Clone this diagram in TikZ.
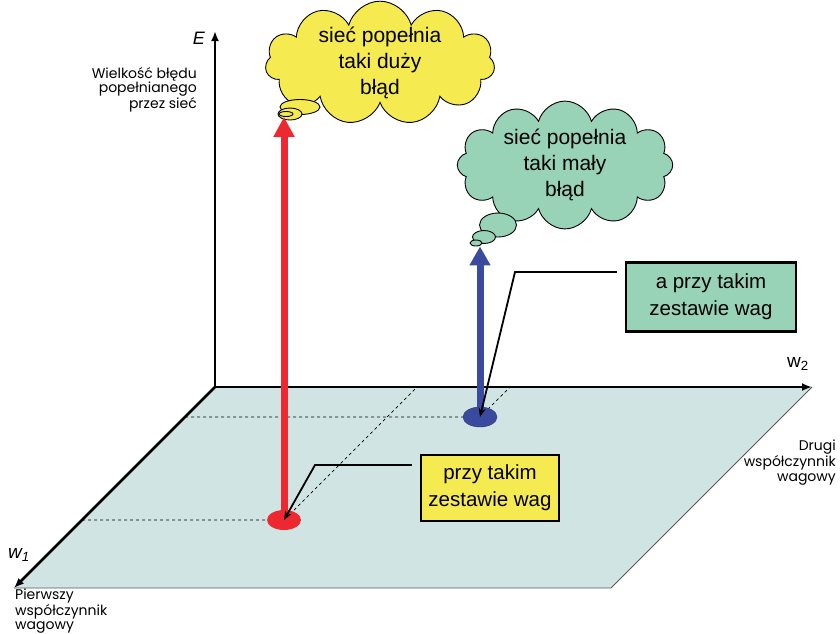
\documentclass[tikz,border=0pt]{standalone}
\usepackage{fontspec}
\setmainfont{Liberation Sans}
\newfontfamily\axisfont{Poppins}
\usepackage{tikz}
\usetikzlibrary{arrows,arrows.meta,shapes,positioning}
\definecolor{planecol}{RGB}{208,229,227}
\definecolor{bigerr}{RGB}{245,234,80}
\definecolor{smallerr}{RGB}{152,211,183}
\definecolor{redpt}{RGB}{237,40,48}
\definecolor{bluept}{RGB}{58,74,158}
\tikzstyle{thought} = [draw, cloud, cloud puffs=11, cloud ignores aspect,
    inner xsep=17pt, inner ysep=-8pt,
    align=center, line width=0.9pt, font=\fontsize{21}{26}\selectfont]
\tikzstyle{bubble} = [draw, ellipse, inner sep=0pt, line width=0.9pt]
\tikzstyle{tag} = [draw, rectangle, line width=2.5pt, align=center,
    font=\fontsize{20.5}{27}\selectfont]
\tikzstyle{spot} = [ellipse, inner sep=0pt, minimum width=34pt, minimum height=20pt]
\tikzstyle{axis} = [line width=2.5pt, >={Latex[length=10pt,width=8pt]}]
\tikzstyle{guide} = [line width=0.7pt, dash pattern=on 3pt off 3pt]
\tikzstyle{pointer} = [line width=1.8pt, -{Stealth[length=9pt,width=7pt]}]
\tikzstyle{caption} = [inner sep=0pt, font=\axisfont\fontsize{14}{14.5}\selectfont]

\begin{document}
\begin{tikzpicture}[x=1pt, y=-1pt]
  \useasboundingbox (0,0) rectangle (840,633);
  % Weight plane
  \coordinate (O) at (215,387);
  \coordinate (Eend) at (215,31);
  \coordinate (w1end) at (14,588);
  \coordinate (w2end) at (812,387);
  \coordinate (far) at (611,588);
  \fill[planecol] (O) -- (w2end) -- (far) -- (w1end) -- cycle;
  \draw[gray!70!black, line width=0.8pt] (w1end) -- (far) -- (w2end);

  % Projections of both points
  \coordinate (rpos) at (284,520);
  \coordinate (bpos) at (480,417);
  \coordinate (rfoot) at (82,520);
  \coordinate (bfoot) at (185,417);
  \draw[guide] (rfoot) -- (rpos) -- +(133,-133);
  \draw[guide] (bfoot) -- (bpos) -- +(30,-30);

  % Axes
  \draw[axis, <->] (Eend) -- (O) -- (w2end);
  \draw[axis, ->] (O) -- (w1end);
  \node [below left=1pt and 10pt of Eend, inner sep=0pt,
    font=\itshape\fontsize{18}{18}\selectfont] (Elab) {E};
  \node [inner sep=0pt, font=\itshape\fontsize{19}{19}\selectfont] (w1lab)
    at (19,555) {w\textsubscript{1}};
  \node [inner sep=0pt, font=\fontsize{19}{19}\selectfont] (w2lab)
    at (798,364) {w\textsubscript{2}};
  \node [caption, align=right, anchor=north east] (Ecap) at (197,67)
    {Wielkość błędu\\popełnianego\\przez sieć};
  \node [caption, align=right, anchor=north east] (w2cap) at (836,440)
    {Drugi\\współczynnik\\wagowy};
  \node [caption, align=left, anchor=north west, font=\axisfont\fontsize{14}{14}\selectfont]
    (w1cap) at (15,589) {Pierwszy\\współczynnik\\wagowy};

  % Place nodes
  \node [spot, fill=redpt] (rspot) at (rpos) {};
  \node [spot, fill=bluept, draw=bluept!70!black] (bspot) at (bpos) {};

  \node [thought, fill=bigerr] (bigcloud) at (380,63)
    {sieć popełnia\\taki duży\\błąd};
  \node [bubble, fill=bigerr, minimum width=40pt, minimum height=15pt]
    (ybub1) at (300,107) {};
  \node [bubble, fill=bigerr, minimum width=24pt, minimum height=12pt]
    (ybub2) at (290,114) {};
  \node [bubble, fill=bigerr, minimum width=14pt, minimum height=5pt]
    (ybub3) at (286,114) {};

  \node [thought, fill=smallerr, cloud puffs=12, inner xsep=11pt, inner ysep=-4pt]
    (smallcloud) at (565,165) {sieć popełnia\\taki mały\\błąd};
  \node [bubble, fill=smallerr, minimum width=37pt, minimum height=24pt]
    (gbub1) at (498,225) {};
  \node [bubble, fill=smallerr, minimum width=23pt, minimum height=13pt]
    (gbub2) at (484,237) {};
  \node [bubble, fill=smallerr, minimum width=12pt, minimum height=6pt]
    (gbub3) at (476,243) {};

  % Error bars
  \draw[redpt, line width=7pt, -{Triangle[length=20pt,width=20pt]}]
    (rspot.center) -- (rspot.center |- ybub3.south);
  \draw[bluept, line width=7pt, -{Triangle[length=19pt,width=20pt]}]
    (bspot.center) -- (bspot.center |- gbub3.south);

  % Callouts
  \node [tag, fill=bigerr, minimum width=138pt, minimum height=66pt]
    (ybox) at (490,488) {przy takim\\zestawie wag};
  \node [tag, fill=smallerr, minimum width=170pt, minimum height=69pt]
    (gbox) at (711,297) {a przy takim\\zestawie wag};
  \coordinate (ybend) at (315,465);
  \coordinate (gbend) at (515,272);
  \draw[pointer] (ybox.west |- ybend) ++(-8,0) -- (ybend) -- (rspot.center);
  \draw[pointer] (gbox.west |- gbend) ++(-8,0) -- (gbend) -- (bspot.center);
\end{tikzpicture}
\end{document}
